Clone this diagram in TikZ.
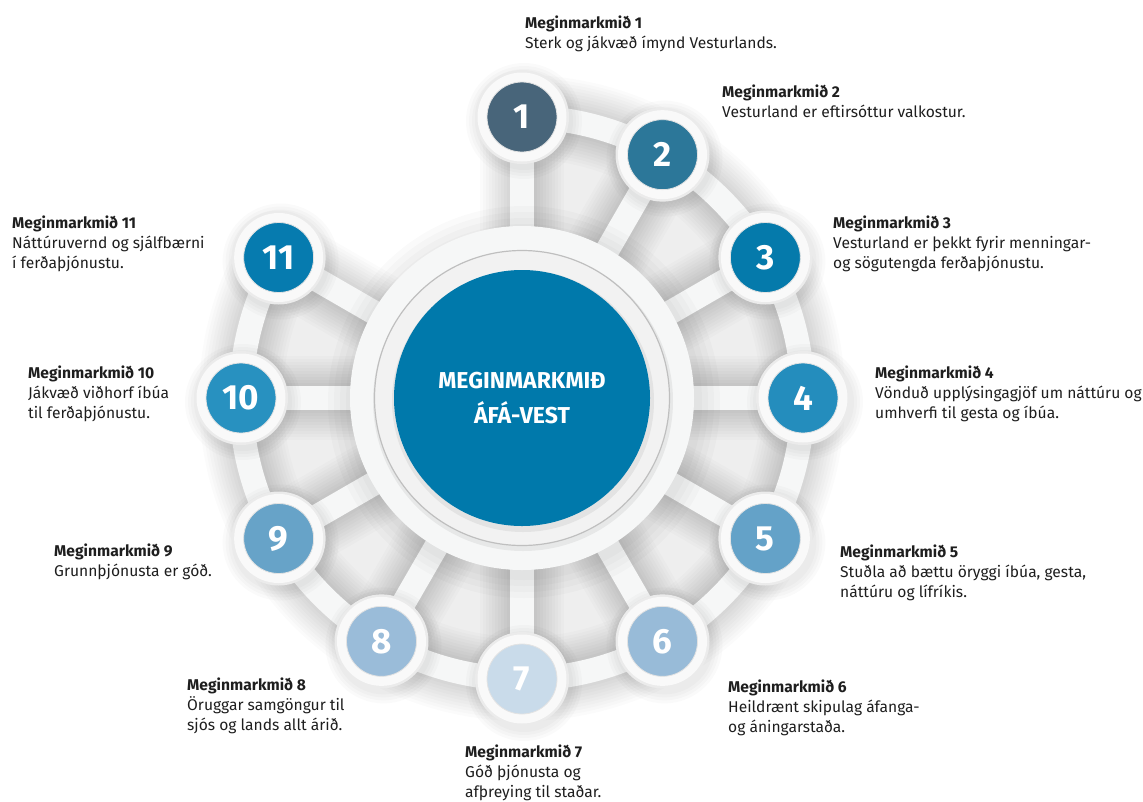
\documentclass[tikz,border=0pt]{standalone}
\usepackage{fontspec}
\setmainfont{Fira Sans}
\usetikzlibrary{calc}
\definecolor{c1}{HTML}{48657A}
\definecolor{c2}{HTML}{2C7799}
\definecolor{c3}{HTML}{057AAB}
\definecolor{c4}{HTML}{248DBD}
\definecolor{c5}{HTML}{64A2C8}
\definecolor{c6}{HTML}{98BBD8}
\definecolor{c7}{HTML}{C9DBEA}
\definecolor{c8}{HTML}{9ABCD9}
\definecolor{c9}{HTML}{67A3C8}
\definecolor{c10}{HTML}{2891C0}
\definecolor{c11}{HTML}{067BAF}
\definecolor{hubblue}{HTML}{0079AB}
\definecolor{band}{HTML}{F6F7F7}
\definecolor{cell}{HTML}{EEEEEE}
\definecolor{labtext}{HTML}{1E1E1E}
\begin{document}
\begin{tikzpicture}[x=1pt,y=1pt,
  lab/.style={anchor=north west, inner sep=0pt, align=left,
    font=\fontsize{15.6}{19.8}\selectfont, text=labtext},
  num/.style={circle, minimum size=70pt, inner sep=0pt, text=white,
    font=\fontsize{35}{35}\selectfont\bfseries},
  hubnode/.style={circle, minimum size=256pt, inner sep=0pt, fill=hubblue,
    text=white, align=center, font=\fontsize{23}{35}\selectfont\bfseries},
  bandline/.style={line width=24pt, band},
]
\useasboundingbox (0,0) rectangle (1143,-801);
\fill[white] (0,0) rectangle (1143,-801);
\coordinate (C) at (522,-398);
\foreach \i/\a in {1/90,2/60,3/30,4/0,5/-30,6/-60,7/-90,8/-120,9/-150,10/-180,11/-210}
  \coordinate (p\i) at ($(C)+(\a:281)$);

% grey cells
\fill[cell] (C) -- (p1) arc[start angle=90,end angle=-210,radius=281] -- cycle;

% band shadows (soft)
\foreach \w in {84,78,...,26} {
  \draw[line width=\w pt, black, opacity=0.014] (p1) arc[start angle=90,end angle=-210,radius=281];
  \foreach \i in {1,...,11} \draw[line width=\w pt, black, opacity=0.014] (C) -- (p\i);
}
% bands
\draw[bandline] (p1) arc[start angle=90,end angle=-210,radius=281];
\foreach \i in {1,...,11} \draw[bandline] (C) -- (p\i);

% hub
\foreach \r in {196,190,...,174}
  \fill[black, opacity=0.018] ($(C)+(2,-4)$) circle (\r);
\fill[band] (C) circle (172);
\fill[black, opacity=0.06] ($(C)+(1,-3)$) circle (150);
\fill[gray!10] (C) circle (147.5);
\draw[gray!50, line width=1.2pt] (C) circle (147.5);
\fill[black, opacity=0.06] ($(C)+(1,-3)$) circle (131);
\node[hubnode] (hub) at (C) {MEGINMARKMIÐ\\ÁFÁ-VEST};

% small circles
\foreach \i in {1,...,11} {
  \foreach \r in {58,55,...,49}
    \fill[black, opacity=0.02] ($(p\i)+(2,-4)$) circle (\r);
  \fill[gray!16] (p\i) circle (47);
  \fill[gray!5] (p\i) circle (44.5);
  \node[num, fill=c\i, draw=gray!22, line width=0.8pt] (n\i) at (p\i) {\i};
}

% labels
\node[lab] (l1) at (525,-16) {\textbf{Meginmarkmið 1}\\Sterk og jákvæð ímynd Vesturlands.};
\node[lab] (l2) at (722,-85) {\textbf{Meginmarkmið 2}\\Vesturland er eftirsóttur valkostur.};
\node[lab] (l3) at (833,-216) {\textbf{Meginmarkmið 3}\\Vesturland er þekkt fyrir menningar-\\og sögutengda ferðaþjónustu.};
\node[lab] (l4) at (875,-366) {\textbf{Meginmarkmið 4}\\Vönduð upplýsingagjöf um náttúru og\\umhverfi til gesta og íbúa.};
\node[lab] (l5) at (840,-545) {\textbf{Meginmarkmið 5}\\Stuðla að bættu öryggi íbúa, gesta,\\náttúru og lífríkis.};
\node[lab] (l6) at (728,-680) {\textbf{Meginmarkmið 6}\\Heildrænt skipulag áfanga-\\og áningarstaða.};
\node[lab] (l7) at (465,-745) {\textbf{Meginmarkmið 7}\\Góð þjónusta og\\afþreying til staðar.};
\node[lab] (l8) at (187,-678) {\textbf{Meginmarkmið 8}\\Öruggar samgöngur til\\sjós og lands allt árið.};
\node[lab] (l9) at (54,-544) {\textbf{Meginmarkmið 9}\\Grunnþjónusta er góð.};
\node[lab] (l10) at (28,-366) {\textbf{Meginmarkmið 10}\\Jákvæð viðhorf íbúa\\til ferðaþjónustu.};
\node[lab] (l11) at (12,-216) {\textbf{Meginmarkmið 11}\\Náttúruvernd og sjálfbærni\\í ferðaþjónustu.};
\end{tikzpicture}
\end{document}
